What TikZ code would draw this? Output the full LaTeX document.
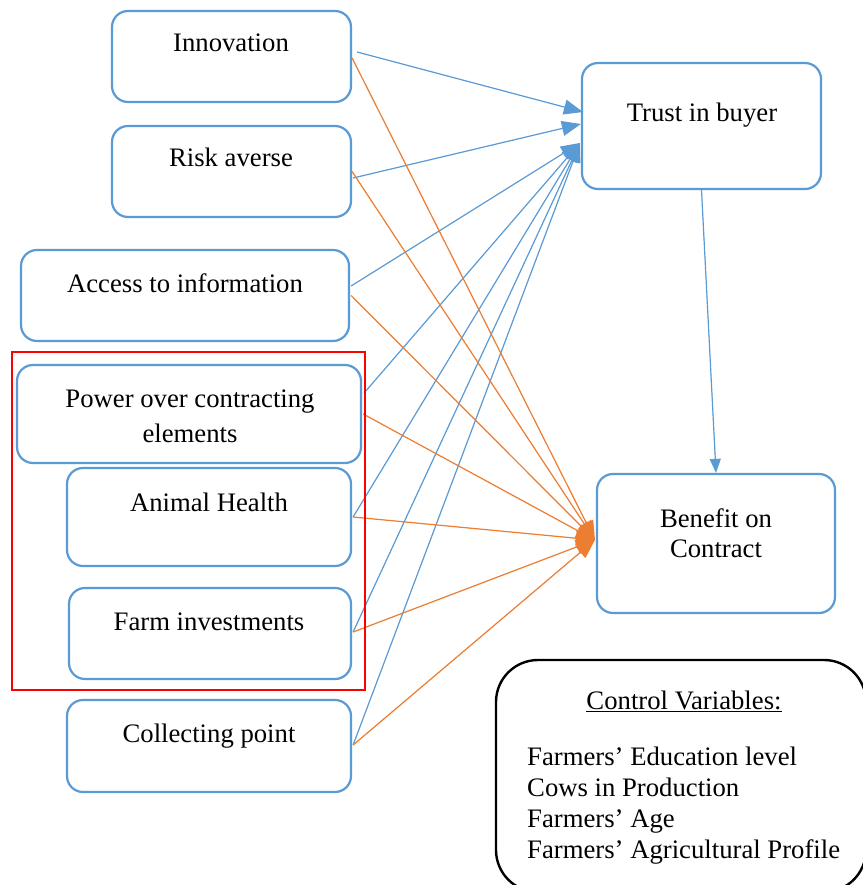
\documentclass[tikz,border=0pt]{standalone}
\usepackage{fontspec}
\setmainfont{Liberation Serif}
\usetikzlibrary{arrows.meta}
\definecolor{boxblue}{RGB}{91,155,213}
\definecolor{linkorange}{RGB}{237,125,49}
\definecolor{framered}{RGB}{255,0,0}
\begin{document}
\begin{tikzpicture}[x=1pt,y=-1pt,
  varbox/.style={draw=boxblue,line width=2.2pt,rounded corners=16pt,
    rectangle,inner sep=0pt,fill=white},
  lbl/.style={inner sep=0pt,anchor=base,font=\fontsize{26.7}{31}\selectfont},
  lblw/.style={lbl,anchor=base west},
  tiptri/.style={-{Triangle[length=19pt,width=15pt]}},
  bluelink/.style={tiptri,draw=boxblue,fill=boxblue,line width=1.2pt},
  orangelink/.style={tiptri,draw=linkorange,fill=linkorange,line width=1.2pt}]
\useasboundingbox (0,0) rectangle (862,885);
\fill[white] (0,0) rectangle (862,885);

% predictor boxes
\node[varbox,minimum width=239pt,minimum height=91pt] (inn) at (231.5,56.5) {};
\node[varbox,minimum width=239pt,minimum height=91pt] (risk) at (231.5,171.5) {};
\node[varbox,minimum width=328pt,minimum height=91pt] (acc) at (185,295.5) {};
\node[varbox,minimum width=344pt,minimum height=98pt] (pow) at (189,414) {};
\node[varbox,minimum width=284pt,minimum height=98pt] (ani) at (209,517) {};
\node[varbox,minimum width=282pt,minimum height=91pt] (farm) at (210,633.5) {};
\node[varbox,minimum width=284pt,minimum height=92pt] (col) at (209,746) {};

% outcome boxes
\node[varbox,minimum width=239pt,minimum height=126pt] (trust) at (701.5,126) {};
\node[varbox,minimum width=238pt,minimum height=139pt] (ben) at (716,543.5) {};

% labels
\node[lbl] (tinn) at (231,52) {Innovation};
\node[lbl] (trisk) at (231,167) {Risk averse};
\node[lbl] (tacc) at (185,292) {Access to information};
\node[lbl] (tpow1) at (190,407) {Power over contracting};
\node[lbl] (tpow2) at (190,442) {elements};
\node[lbl] (tani) at (209,511) {Animal Health};
\node[lbl] (tfarm) at (209,630) {Farm investments};
\node[lbl] (tcol) at (209,742) {Collecting point};
\node[lbl] (ttrust) at (702,122) {Trust in buyer};
\node[lbl] (tben1) at (716,527) {Benefit on};
\node[lbl] (tben2) at (716,557) {Contract};

% links to trust in buyer
\draw[bluelink] ([xshift=5pt,yshift=4.5pt]inn.east) -- ([xshift=2pt,yshift=14pt]trust.west);
\draw[bluelink] ([xshift=1pt,yshift=-6.5pt]risk.east) -- ([yshift=2pt]trust.west);
\draw[bluelink] ([xshift=1pt,yshift=9.5pt]acc.east) -- ([xshift=-1pt,yshift=-17pt]trust.west);
\draw[bluelink] ([xshift=2pt,yshift=21pt]pow.east) -- ([xshift=-1pt,yshift=-17pt]trust.west);
\draw[bluelink] ([xshift=1pt]ani.east) -- ([xshift=-1pt,yshift=-17pt]trust.west);
\draw[bluelink] ([xshift=1pt,yshift=1.5pt]farm.east) -- ([xshift=-1pt,yshift=-17pt]trust.west);
\draw[bluelink] ([xshift=1pt,yshift=1pt]col.east) -- ([xshift=-1pt,yshift=-17pt]trust.west);

% links to benefit on contract
\draw[orangelink] ([yshift=-1.5pt]inn.east) -- ([xshift=-1pt,yshift=3.5pt]ben.west);
\draw[orangelink] (risk.east) -- ([xshift=-1pt,yshift=3.5pt]ben.west);
\draw[orangelink] ([xshift=1pt]acc.east) -- ([xshift=-1pt,yshift=3.5pt]ben.west);
\draw[orangelink] ([xshift=1pt]pow.east) -- ([xshift=-1pt,yshift=3.5pt]ben.west);
\draw[orangelink] ([xshift=1pt]ani.east) -- ([xshift=-1pt,yshift=3.5pt]ben.west);
\draw[orangelink] ([xshift=1pt,yshift=1.5pt]farm.east) -- ([xshift=-1pt,yshift=3.5pt]ben.west);
\draw[orangelink] ([xshift=1pt,yshift=1pt]col.east) -- ([xshift=-1pt,yshift=3.5pt]ben.west);

% trust mediates benefit
\draw[bluelink,-{Triangle[length=14pt,width=11pt]}] (trust.south) -- (ben.north);

% highlighted group
\node[draw=framered,line width=2.5pt,rectangle,inner sep=0pt,
  minimum width=353pt,minimum height=338pt] (grp) at (188.5,521) {};

% control variables panel
\node[draw=black,line width=2.4pt,rounded corners=42pt,rectangle,inner sep=0pt,
  minimum width=370pt,minimum height=232pt] (ctrl) at (681,776) {};
\node[lbl] (tctrl) at (684,709) {\underline{Control Variables:}};
\node[lblw] (c1) at (527,765) {Farmers’ Education level};
\node[lblw] (c2) at (527,796) {Cows in Production};
\node[lblw] (c3) at (527,827) {Farmers’ Age};
\node[lblw] (c4) at (527,858) {Farmers’ Agricultural Profile};
\end{tikzpicture}
\end{document}
